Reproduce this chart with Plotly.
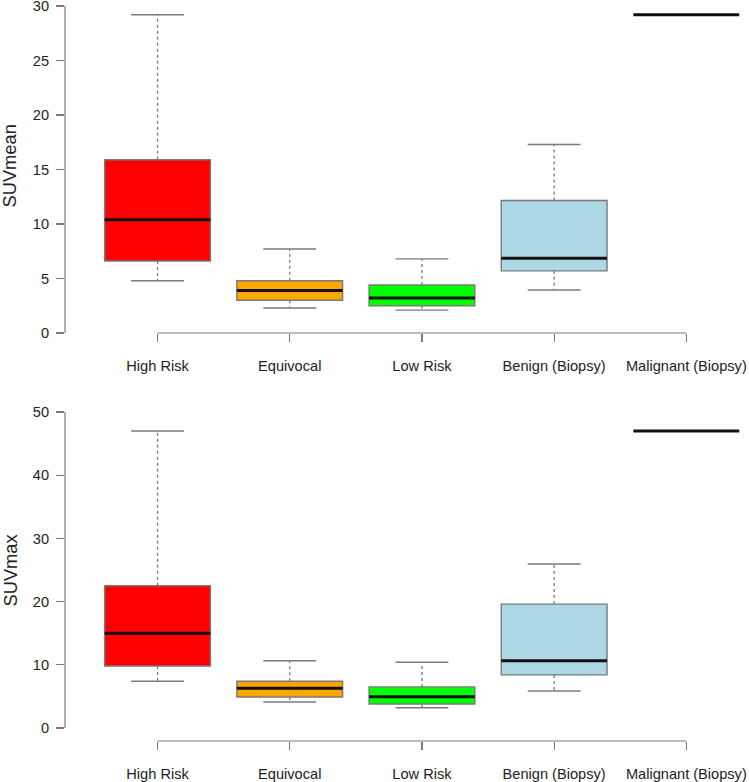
import plotly.graph_objects as go
from plotly.subplots import make_subplots

categories = ["High Risk", "Equivocal", "Low Risk", "Benign (Biopsy)", "Malignant (Biopsy)"]
positions = [1, 2, 3, 4, 5]
fill_colors = ["#FF0000", "#FFA500", "#00FF00", "#ADD8E6", "#FFFFFF"]

# SUVmean (top panel)
mean_lower = [4.8, 2.3, 2.1, 3.95, 29.2]
mean_q1 = [6.6, 3.0, 2.5, 5.7, 29.2]
mean_median = [10.4, 3.9, 3.2, 6.85, 29.2]
mean_q3 = [15.9, 4.8, 4.4, 12.15, 29.2]
mean_upper = [29.2, 7.7, 6.8, 17.3, 29.2]

# SUVmax (bottom panel)
max_lower = [7.4, 4.1, 3.2, 5.85, 47.0]
max_q1 = [9.8, 4.9, 3.8, 8.4, 47.0]
max_median = [15.0, 6.3, 4.95, 10.65, 47.0]
max_q3 = [22.5, 7.4, 6.5, 19.6, 47.0]
max_upper = [47.0, 10.65, 10.4, 25.95, 47.0]

mean_ticks = [0, 5, 10, 15, 20, 25, 30]
max_ticks = [0, 10, 20, 30, 40, 50]

BOX_W = 0.8
CAP_W = 0.4
GRAY = "#7a7a7a"
TXT = "#222222"
FONT = "Liberation Sans, Arial, sans-serif"

fig = make_subplots(rows=2, cols=1, shared_xaxes=False, vertical_spacing=0.05)


def add_panel(row, lower, q1, med, q3, upper):
    for i, p in enumerate(positions):
        fig.add_trace(go.Box(
            x=[p], q1=[q1[i]], median=[med[i]], q3=[q3[i]],
            lowerfence=[q1[i]], upperfence=[q3[i]],
            width=BOX_W, fillcolor=fill_colors[i],
            line=dict(color=GRAY, width=1.4),
            whiskerwidth=0, boxpoints=False, hoverinfo="skip", showlegend=False,
        ), row=row, col=1)
    wx, wy, cx, cy, mx, my = [], [], [], [], [], []
    for i, p in enumerate(positions):
        if upper[i] > q3[i]:
            wx += [p, p, None]
            wy += [q3[i], upper[i], None]
        if lower[i] < q1[i]:
            wx += [p, p, None]
            wy += [q1[i], lower[i], None]
        if upper[i] > q3[i] or lower[i] < q1[i]:
            cx += [p - CAP_W / 2, p + CAP_W / 2, None, p - CAP_W / 2, p + CAP_W / 2, None]
            cy += [upper[i], upper[i], None, lower[i], lower[i], None]
        mx += [p - BOX_W / 2, p + BOX_W / 2, None]
        my += [med[i], med[i], None]
    fig.add_trace(go.Scatter(x=wx, y=wy, mode="lines",
                             line=dict(color=GRAY, width=1.3, dash="3px,3px"),
                             hoverinfo="skip", showlegend=False), row=row, col=1)
    fig.add_trace(go.Scatter(x=cx, y=cy, mode="lines",
                             line=dict(color=GRAY, width=1.4),
                             hoverinfo="skip", showlegend=False), row=row, col=1)
    fig.add_trace(go.Scatter(x=mx, y=my, mode="lines",
                             line=dict(color="#111111", width=3),
                             hoverinfo="skip", showlegend=False), row=row, col=1)


add_panel(1, mean_lower, mean_q1, mean_median, mean_q3, mean_upper)
add_panel(2, max_lower, max_q1, max_median, max_q3, max_upper)

xcommon = dict(range=[0.3, 5.474], tickvals=positions, ticktext=categories,
               ticks="outside", ticklen=8, tickwidth=1.2, tickcolor=GRAY,
               showline=False, showgrid=False, zeroline=False, automargin=False,
               tickfont=dict(family=FONT, size=14.6, color=TXT),
               ticklabelstandoff=11, ticklabeloverflow="allow")
fig.update_xaxes(**xcommon)
fig.update_xaxes(domain=[0, 1])

ycommon = dict(ticks="outside", ticklen=8, tickwidth=1.2, tickcolor=GRAY,
               showline=False, showgrid=False, zeroline=False, automargin=False,
               tickfont=dict(family=FONT, size=14.6, color=TXT),
               ticklabelstandoff=4, ticklabeloverflow="allow")
fig.update_yaxes(**ycommon)
fig.update_yaxes(range=[0, 30.55], tickvals=mean_ticks, domain=[0.5506, 1.0], row=1, col=1)
fig.update_yaxes(range=[-2.06, 51.9], tickvals=max_ticks, domain=[0.0, 0.4602], row=2, col=1)

shapes = []
for xr, yr, ticks in [("x", "y", mean_ticks), ("x2", "y2", max_ticks)]:
    shapes.append(dict(type="line", xref=xr + " domain", yref=yr,
                       x0=0, x1=0, y0=ticks[0], y1=ticks[-1],
                       line=dict(color=GRAY, width=1.2)))
    shapes.append(dict(type="line", xref=xr, yref=yr + " domain",
                       x0=positions[0], x1=positions[-1], y0=0, y1=0,
                       line=dict(color=GRAY, width=1.2)))

annotations = []
for yr, title in [("y", "SUVmean"), ("y2", "SUVmax")]:
    annotations.append(dict(text=title, textangle=-90, xref="paper", x=0, xshift=-55,
                            yref=yr + " domain", y=0.5, showarrow=False,
                            xanchor="center", yanchor="middle",
                            font=dict(family=FONT, size=18.3, color=TXT)))

fig.update_layout(width=749, height=782,
                  margin=dict(l=65, r=0, t=0, b=41, pad=0, autoexpand=False),
                  plot_bgcolor="white", paper_bgcolor="white",
                  shapes=shapes, annotations=annotations, showlegend=False)

fig.write_html("out.html", config={"displayModeBar": False, "staticPlot": True},
               post_script="document.body.style.margin='0';document.body.style.overflow='hidden';")
